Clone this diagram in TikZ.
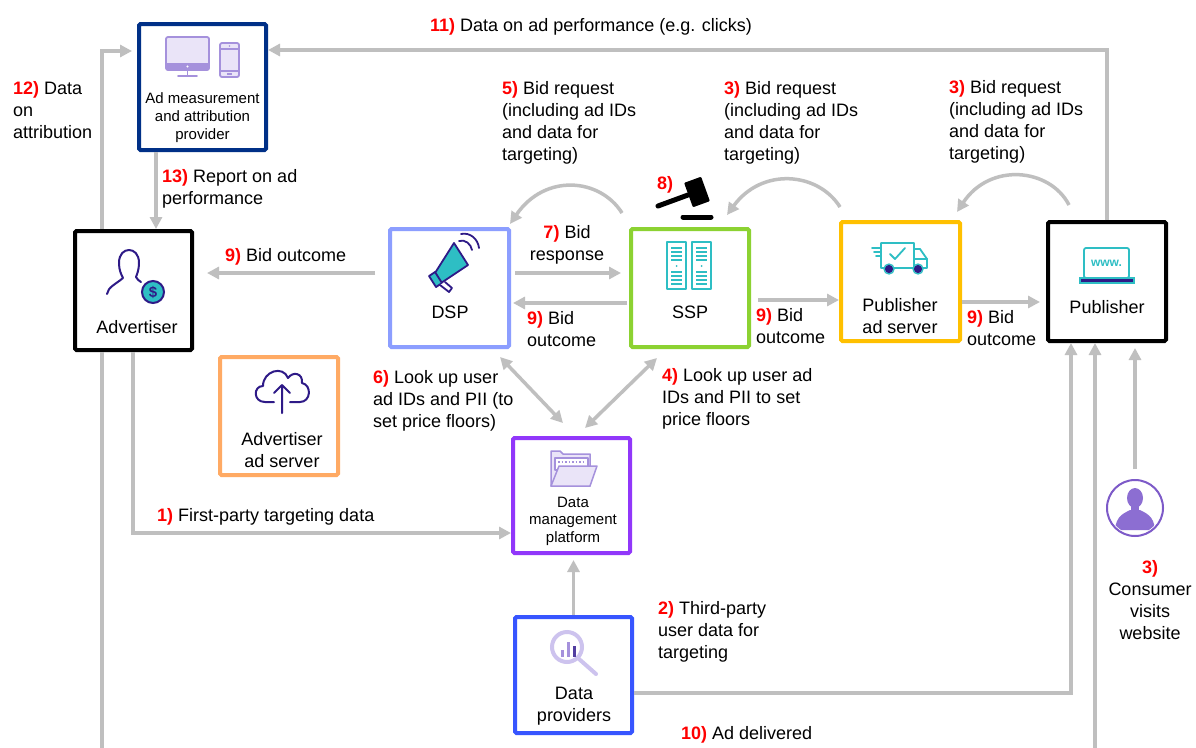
\documentclass[tikz,border=0pt]{standalone}
\usepackage{fontspec}
\setmainfont{Liberation Sans}
\usetikzlibrary{arrows.meta,calc}
\definecolor{arrgray}{RGB}{191,191,191}
\definecolor{numred}{RGB}{255,0,0}
\definecolor{navyb}{RGB}{0,48,135}
\definecolor{dspblue}{RGB}{140,158,255}
\definecolor{sspgreen}{RGB}{140,210,50}
\definecolor{goldb}{RGB}{255,192,0}
\definecolor{orangeb}{RGB}{255,170,100}
\definecolor{dmppurple}{RGB}{145,55,250}
\definecolor{dpblue}{RGB}{55,85,255}
\definecolor{indigob}{RGB}{46,26,135}
\definecolor{icteal}{RGB}{46,190,196}
\definecolor{lav}{RGB}{165,145,220}
\definecolor{lavlight}{RGB}{234,228,248}
\definecolor{lavmid}{RGB}{205,195,238}
\definecolor{conspurple}{RGB}{125,90,200}
\definecolor{consfill}{RGB}{140,110,210}
\newcommand{\numr}[1]{\textcolor{numred}{\textbf{#1}}}
\newcommand{\lblL}[1]{\begin{tabular}[t]{@{}l@{}}#1\end{tabular}}
\newcommand{\lblC}[1]{\begin{tabular}[t]{@{}c@{}}#1\end{tabular}}
\begin{document}
\begin{tikzpicture}[x=1pt,y=-1pt,
  box/.style={draw,line width=4pt,inner sep=0pt,rounded corners=1.5pt},
  conn/.style={draw=arrgray,line width=3.5pt,-{Triangle[length=12pt,width=12pt]}},
  dconn/.style={draw=arrgray,line width=3.5pt,{Triangle[length=12pt,width=12pt]}-{Triangle[length=12pt,width=12pt]}},
  lbl/.style={inner sep=0pt,anchor=base west,font=\fontsize{18}{22}\selectfont},
  clbl/.style={inner sep=0pt,anchor=base,font=\fontsize{18}{22}\selectfont},
  slbl/.style={inner sep=0pt,anchor=base,font=\fontsize{15}{18}\selectfont},
  icon/.style={line width=1.8pt,line join=round,line cap=round}]
\fill[white] (0,0) rectangle (1196,747);
\useasboundingbox (0,0) rectangle (1196,747);

% ---------- boxes ----------
\node[box,draw=navyb,minimum width=127pt,minimum height=126pt] (meas) at (202.5,87) {};
\node[box,draw=black,minimum width=117pt,minimum height=119pt] (adv) at (133.5,290.5) {};
\node[box,draw=dspblue,minimum width=119pt,minimum height=118pt] (dsp) at (449.5,288) {};
\node[box,draw=sspgreen,minimum width=118pt,minimum height=118pt] (ssp) at (690,288) {};
\node[box,draw=goldb,minimum width=119pt,minimum height=119pt] (pas) at (900.5,281.5) {};
\node[box,draw=black,minimum width=118pt,minimum height=119pt] (pub) at (1107,281.5) {};
\node[box,draw=orangeb,minimum width=118pt,minimum height=118pt] (aas) at (279,416) {};
\node[box,draw=dmppurple,minimum width=117pt,minimum height=115pt] (dmp) at (571.5,495.5) {};
\node[box,draw=dpblue,minimum width=117pt,minimum height=116pt] (dp) at (573.5,675) {};
\node[circle,draw=conspurple,line width=2pt,minimum size=56pt,inner sep=0pt] (cons) at (1135,508) {};

% ---------- box labels ----------
\node[slbl] (tmeas) at (202.5,103) {\lblC{Ad measurement\\and attribution\\provider}};
\node[clbl] (tadv) at (137,333) {Advertiser};
\node[clbl] (tdsp) at (450,318) {DSP};
\node[clbl] (tssp) at (690,318) {SSP};
\node[clbl] (tpas) at (900,311) {\lblC{Publisher\\ad server}};
\node[clbl] (tpub) at (1107,313) {Publisher};
\node[clbl] (taas) at (282,445) {\lblC{Advertiser\\ad server}};
\node[inner sep=0pt,anchor=base,font=\fontsize{15}{17.5}\selectfont] (tdmp) at (573,507) {\lblC{Data\\management\\platform}};
\node[clbl] (tdp) at (574,699) {\lblC{Data\\providers}};

% ---------- connectors ----------
\coordinate (c12) at (102,51);
\draw[conn,shorten >=5pt] (c12 |- adv.north) -- (c12) -- (c12 -| meas.west);
\coordinate (c13) at (156,0);
\draw[conn] (c13 |- meas.south) -- (c13 |- adv.north);
\coordinate (c11) at (1107,50);
\draw[conn] (pub.north) -- (c11) -- (c11 -| meas.east);
\coordinate (c9a) at (0,273);
\draw[conn,shorten <=13pt,shorten >=13pt] (c9a -| dsp.west) -- (c9a -| adv.east);
\coordinate (c7) at (0,273);
\draw[conn,shorten <=4pt,shorten >=8pt] (c7 -| dsp.east) -- (c7 -| ssp.west);
\coordinate (c9b) at (0,303);
\draw[conn,shorten <=2pt,shorten >=2pt] (c9b -| ssp.west) -- (c9b -| dsp.east);
\coordinate (c9c) at (0,300);
\draw[conn,shorten <=7pt] (c9c -| ssp.east) -- (c9c -| pas.west);
\coordinate (c9d) at (0,302);
\draw[conn,shorten >=6pt] (c9d -| pas.east) -- (c9d -| pub.west);
\coordinate (c1) at (133,533);
\draw[conn] (c1 |- adv.south) -- (c1) -- (c1 -| dmp.west);
\draw[conn,shorten >=5pt] (dp.north) -- (dp.north |- dmp.south);
\coordinate (c10a) at (1071,693);
\draw[conn] (c10a -| dp.east) -- (c10a) -- (c10a |- pub.south);
\coordinate (c10b) at (102,765);
\coordinate (c10c) at (1095,765);
\draw[conn] (c10b |- adv.south) -- (c10b) -- (c10c) -- (c10c |- pub.south);
\draw[conn,shorten <=10pt,shorten >=5pt] (cons.north) -- (cons.north |- pub.south);
\draw[dconn] ($(dsp.south east)+(-11,8)$) -- ($(dmp.north)+(-8.5,-13)$);
\draw[dconn] ($(ssp.south west)+(28,9)$) -- ($(dmp.north)+(13.5,-8)$);
\draw[conn] ($(ssp.north west)+(-7,-14)$) .. controls (600,178) and (545,173) .. ($(dsp.north east)+(-1,-3)$);
\draw[conn] ($(pas.north west)+(1,-13)$) .. controls (818,172) and (762,167) .. ($(ssp.north east)+(-24,-12)$);
\draw[conn] ($(pub.north west)+(23,-15)$) .. controls (1050,168) and (990,162) .. ($(pas.north east)+(-5,-8)$);

% ---------- connector labels ----------
\node[lbl] (l11) at (430,31) {\numr{11)} Data on ad performance (e.g. clicks)};
\node[lbl] (l12) at (13,94) {\lblL{\numr{12)} Data\\on\\attribution}};
\node[lbl] (l13) at (162,182) {\lblL{\numr{13)} Report on ad\\performance}};
\node[lbl] (l5) at (502,94) {\lblL{\numr{5)} Bid request\\(including ad IDs\\and data for\\targeting)}};
\node[lbl] (l3a) at (724,94) {\lblL{\numr{3)} Bid request\\(including ad IDs\\and data for\\targeting)}};
\node[lbl] (l3b) at (949,93) {\lblL{\numr{3)} Bid request\\(including ad IDs\\and data for\\targeting)}};
\node[lbl] (l8) at (657,189) {\numr{8)}};
\node[lbl] (l9a) at (225,261) {\numr{9)} Bid outcome};
\node[clbl] (l7) at (567,238) {\lblC{\numr{7)} Bid\\response}};
\node[lbl] (l9b) at (527,324) {\lblL{\numr{9)} Bid\\outcome}};
\node[lbl] (l9c) at (756,321) {\lblL{\numr{9)} Bid\\outcome}};
\node[lbl] (l9d) at (967,323) {\lblL{\numr{9)} Bid\\outcome}};
\node[lbl] (l6) at (373,383) {\lblL{\numr{6)} Look up user\\ad IDs and PII (to\\set price floors)}};
\node[lbl] (l4) at (662,381) {\lblL{\numr{4)} Look up user ad\\IDs and PII to set\\price floors}};
\node[lbl] (l1) at (157,521) {\numr{1)} First-party targeting data};
\node[lbl] (l2) at (658,614) {\lblL{\numr{2)} Third-party\\user data for\\targeting}};
\node[lbl] (l10) at (681,739) {\numr{10)} Ad delivered};
\node[clbl] (l3c) at (1150,573) {\lblC{\numr{3)}\\Consumer\\visits\\website}};

% ---------- gavel ----------
\draw[line width=5pt,line cap=round] (658,206) -- (688,195);
\fill[black,rounded corners=1pt] (701.1,176.7) -- (684.1,182.9) -- (692.9,207.3) -- (709.9,201.1) -- cycle;
\draw[line width=5pt,line cap=round] (683,217) -- (711,217);

% ---------- icons ----------
% ad measurement: monitor + phone
\draw[icon,draw=lav,fill=lavlight,rounded corners=2pt] (166,37) rectangle (209,70);
\fill[lav] (166,63) rectangle (209,70);
\fill[white] (187.5,66.5) circle[radius=1.2pt];
\draw[icon,draw=lav] (187.5,70) -- (187.5,76) (178,76) -- (197,76);
\draw[icon,draw=lav,fill=lavlight,rounded corners=2pt] (220,43) rectangle (239,77);
\draw[icon,draw=lav,line width=1.2pt] (220,49) -- (239,49) (220,71) -- (239,71);
\fill[lav] (229.5,46) circle[radius=0.9pt];
\draw[lav,line width=1.2pt] (227,74) -- (232,74);
% advertiser person + coin
\draw[icon,draw=indigob,line width=2pt] (107,294) .. controls (108,287) and (116,284) .. (123,278)
  .. controls (121,274) and (119,270) .. (119,263) .. controls (119,254) and (124,250) .. (129,250)
  .. controls (134,250) and (139,254) .. (139,263) .. controls (139,270) and (137,274) .. (136,277)
  .. controls (137,279) and (139,281) .. (141,282);
\draw[indigob,fill=icteal,line width=2pt] (153,292) circle[radius=11pt];
\node[inner sep=0pt,text=indigob,font=\bfseries\fontsize{15}{15}\selectfont] (coin) at (153,292) {\$};
% DSP megaphone
\draw[icon,draw=indigob,fill=icteal] (454,243) -- (468,265) -- (441,283) -- (435,273) -- cycle;
\draw[icon,draw=indigob,fill=icteal] (429,276) -- (435,272) -- (442,283) -- (436,287) -- cycle;
\draw[icon,draw=indigob,fill=white] (440,285) -- (449,292) -- (452,288) -- (445,282);
\draw[icon,draw=indigob] (459,241) .. controls (465,239) and (471,244) .. (472,250);
\draw[icon,draw=indigob] (461,234) .. controls (470,232) and (478,239) .. (479,248);
% SSP servers
\foreach \sx in {667,692}{
  \draw[icon,draw=icteal] (\sx,242) rectangle ++(19,47);
  \foreach \ly in {248,252,256,260,272,276,280,284}
    \draw[icteal,line width=1.5pt] (\sx+4,\ly) -- (\sx+15,\ly);
  \fill[icteal] (\sx+9.5,266) circle[radius=1pt];
}
% truck
\draw[icon,draw=icteal] (881,243) -- (914,243) -- (914,249) -- (920,249) -- (927,259) -- (927,268) -- (881,268) -- cycle;
\draw[icon,draw=icteal] (914,249) -- (914,268) (914,259) -- (927,259);
\draw[icon,draw=icteal] (872,248) -- (880,248) (874,252) -- (880,252) (876,256) -- (880,256);
\draw[icon,draw=icteal] (890,254) -- (895,259) -- (905,248);
\draw[indigob,fill=indigob,line width=1.5pt] (889,269) circle[radius=3.5pt] (918,269) circle[radius=3.5pt];
\draw[icteal,line width=1.3pt] (889,269) circle[radius=5pt] (918,269) circle[radius=5pt];
% laptop
\draw[icon,draw=icteal,rounded corners=2pt] (1084,248) rectangle (1129,278);
\draw[icteal,fill=indigob,line width=1.5pt] (1080,278) rectangle (1134,283);
\node[inner sep=0pt,text=icteal,font=\bfseries\fontsize{12}{12}\selectfont] (www) at (1106.5,263) {www.};
% cloud with arrow
\draw[icon,draw=indigob,line width=2pt] (274,402) -- (265,402) .. controls (253,402) and (253,386) .. (263,386)
  .. controls (263,371) and (283,365) .. (288,378) .. controls (293,371) and (303,373) .. (302,383)
  .. controls (312,385) and (311,402) .. (300,402) -- (290,402);
\draw[icon,draw=indigob,line width=2pt] (282,413) -- (282,385) (274,393) -- (282,385) -- (290,393);
% folder
\draw[icon,draw=lav,fill=lavlight,line width=1.5pt] (551,486) -- (551,451) -- (560,451) -- (563,454) -- (590,454) -- (590,486) -- cycle;
\draw[icon,draw=lav,fill=white,line width=1.5pt] (555,458) rectangle (588,470);
\draw[lav,line width=1.2pt,dash pattern=on 1.5pt off 2pt] (558,462) -- (586,462);
\draw[icon,draw=lav,fill=lavlight,line width=1.5pt] (551,486) -- (559,466) -- (597,466) -- (590,486) -- cycle;
% magnifier
\draw[lavmid,line width=4pt,line cap=round] (579,659) -- (596,674);
\draw[lavmid,fill=white,line width=4pt] (567,647) circle[radius=15pt];
\draw[lav,line width=3pt] (562,650) -- (562,657) (568,642) -- (568,657);
\draw[indigob!70!lav,line width=3pt] (574,646) -- (574,657);
% consumer silhouette
\begin{scope}
\clip (cons.center) circle[radius=26pt];
\fill[consfill] (1115,530) .. controls (1116,515) and (1125,513) .. (1130,510) -- (1140,510) .. controls (1145,513) and (1154,515) .. (1155,530) -- cycle;
\fill[consfill] (1135,498) ellipse[x radius=8pt,y radius=10pt];
\fill[consfill] (1131,505) rectangle (1139,512);
\end{scope}
\end{tikzpicture}
\end{document}
